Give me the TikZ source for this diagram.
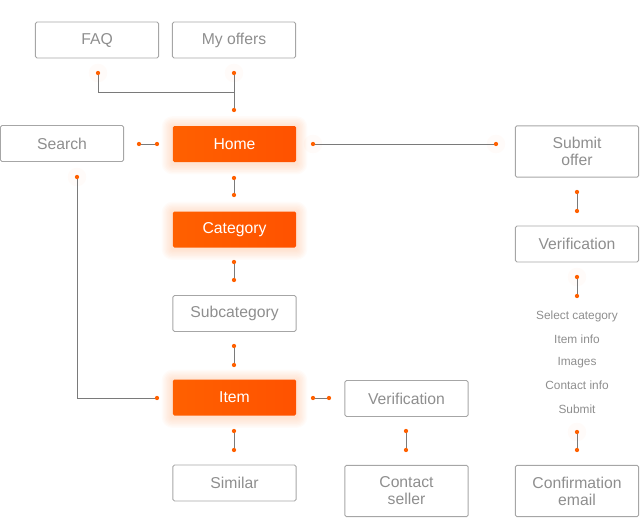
\documentclass[tikz,border=0pt]{standalone}
\usepackage{fontspec}
\setmainfont{Liberation Sans}
\usepackage{xcolor}
\usepackage{tikz}
\usetikzlibrary{backgrounds}

\definecolor{accent}{HTML}{FF6000}
\definecolor{accentdark}{HTML}{FF5200}
\definecolor{boxgray}{HTML}{A6A6A6}
\definecolor{textgray}{HTML}{8E8E8E}
\definecolor{linegray}{HTML}{7A7A7A}

\begin{document}
\begin{tikzpicture}[x=0.75pt, y=-0.75pt,
    page/.style={draw=boxgray, line width=0.7pt, rounded corners=1.2pt, text=textgray,
      minimum width=92.5pt, minimum height=27pt, align=center, inner sep=0pt,
      font=\fontsize{11.8}{12.8}\selectfont},
    tallpage/.style={page, minimum height=38.5pt},
    mainpage/.style={page, draw=none, left color=accent, right color=accentdark, text=white},
    link/.style={linegray, line width=0.75pt},
    stepname/.style={text=textgray, font=\fontsize{8.9}{10}\selectfont},
    dot/.style={fill=accent}]
  \useasboundingbox (0,0) rectangle (640,529);

  % pages
  \node[page] (faq) at (97,40) {FAQ};
  \node[page] (offers) at (234,40) {My offers};
  \node[page] (search) at (62,143.5) {Search};
  \node[mainpage] (home) at (234.5,144) {Home};
  \node[mainpage] (category) at (234.5,229.5) {Category};
  \node[page] (subcategory) at (234.5,313.5) {Subcategory};
  \node[mainpage] (item) at (234.5,397.5) {Item};
  \node[page] (similar) at (234.5,483) {Similar};
  \node[page] (verifyitem) at (406.5,398.5) {Verification};
  \node[tallpage] (contact) at (406.5,491) {Contact\\seller};
  \node[tallpage] (submit) at (577,151.5) {Submit\\offer};
  \node[page] (verifyoffer) at (577,244) {Verification};
  \node[tallpage] (confirm) at (577,491) {Confirmation\\email};

  % submit steps
  \node[stepname] (selcat) at (577,316) {Select category};
  \node[stepname] (iteminfo) at (577,339) {Item info};
  \node[stepname] (images) at (577,363) {Images};
  \node[stepname] (continfo) at (577,385) {Contact info};
  \node[stepname] (sendit) at (577,409) {Submit};

  % connector ends
  \coordinate (faq-d) at (98,73);
  \coordinate (offers-d) at (234,73);
  \coordinate (offers-join) at (234,92);
  \coordinate (home-t) at (234,110);
  \coordinate (search-r) at (139,144);
  \coordinate (home-l) at (157,144);
  \coordinate (home-r) at (313,144);
  \coordinate (submit-l) at (496,144);
  \coordinate (home-b) at (234,178);
  \coordinate (category-t) at (234,195);
  \coordinate (category-b) at (234,262);
  \coordinate (subcat-t) at (234,280);
  \coordinate (subcat-b) at (234,346);
  \coordinate (item-t) at (234,365);
  \coordinate (search-b) at (77,177);
  \coordinate (item-l) at (157,398);
  \coordinate (item-r) at (313,398);
  \coordinate (verifyitem-l) at (329,398);
  \coordinate (item-b) at (234,431);
  \coordinate (similar-t) at (234,450);
  \coordinate (verifyitem-b) at (406,431);
  \coordinate (contact-t) at (406,450);
  \coordinate (submit-b) at (577,192);
  \coordinate (verifyoffer-t) at (577,211);
  \coordinate (verifyoffer-b) at (577,277);
  \coordinate (steps-t) at (577,296);
  \coordinate (steps-b) at (577,432);
  \coordinate (confirm-t) at (577,450);

  % connectors
  \draw[link] (faq-d) |- (offers-join);
  \draw[link] (offers-d) -- (home-t);
  \draw[link] (search-r) -- (home-l);
  \draw[link] (home-r) -- (submit-l);
  \draw[link] (home-b) -- (category-t);
  \draw[link] (category-b) -- (subcat-t);
  \draw[link] (subcat-b) -- (item-t);
  \draw[link] (search-b) |- (item-l);
  \draw[link] (item-r) -- (verifyitem-l);
  \draw[link] (item-b) -- (similar-t);
  \draw[link] (verifyitem-b) -- (contact-t);
  \draw[link] (submit-b) -- (verifyoffer-t);
  \draw[link] (verifyoffer-b) -- (steps-t);
  \draw[link] (steps-b) -- (confirm-t);

  \foreach \p in {faq-d, offers-d, home-t, search-r, home-l, home-r, submit-l, home-b,
      category-t, category-b, subcat-t, subcat-b, item-t, search-b, item-l, item-r,
      verifyitem-l, item-b, similar-t, verifyitem-b, contact-t, submit-b, verifyoffer-t,
      verifyoffer-b, steps-t, steps-b, confirm-t}
    \fill[dot] (\p) circle (1.6pt);

  % glow
  \begin{scope}[on background layer]
    \foreach \n in {home, category, item}
      \foreach \r in {1,...,8}
        \fill[accent, opacity=0.022, rounded corners=\r pt]
          ([shift={(-\r pt,-\r pt-1pt)}]\n.south west) rectangle ([shift={(\r pt,\r pt-1pt)}]\n.north east);
    \foreach \p in {faq-d, offers-d, search-b, home-r, submit-l, verifyoffer-b, steps-b}
      \fill[accent, opacity=0.025] (\p) circle (7pt);
  \end{scope}
\end{tikzpicture}
\end{document}
